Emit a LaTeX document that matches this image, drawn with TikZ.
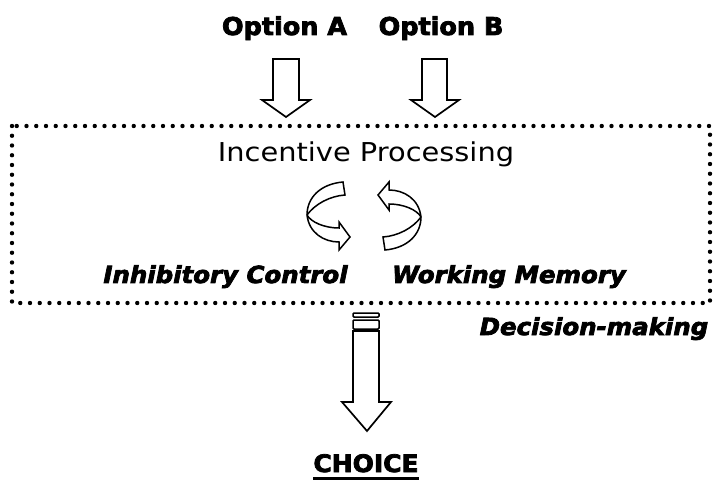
\documentclass[tikz,border=0pt]{standalone}
\usepackage{fontspec}
\newfontfamily\procfont{DejaVu Sans}[FakeStretch=1.11]
\newfontfamily\heavyfont{DejaVu Sans}[FakeStretch=1.04,BoldFeatures={FakeBold=3.2},BoldItalicFeatures={FakeBold=3.2}]
\begin{document}
\begin{tikzpicture}[x=1pt,y=-1pt,
  blockarrow/.style={draw=black,fill=white,line width=1.7pt,line join=miter},
  dotbox/.style={draw=black,line width=4.4pt,line cap=round,dash pattern=on 0pt off 9.75pt},
  opt/.style={inner sep=0pt,anchor=base,font=\heavyfont\bfseries\fontsize{24.5}{29}\selectfont},
  lab/.style={inner sep=0pt,anchor=base,font=\heavyfont\bfseries\itshape\fontsize{23.5}{28}\selectfont},
  proc/.style={inner sep=0pt,anchor=base,font=\procfont\fontsize{26}{31}\selectfont}]
\useasboundingbox (0,0) rectangle (726,489);

% texts
\node[opt] (optA) at (284.5,35) {Option A};
\node[opt] (optB) at (441,35) {Option B};
\node[proc] (proc) at (366,162) {Incentive Processing};
\node[lab] (inh) at (225.5,283) {Inhibitory Control};
\node[lab] (wm) at (509,283) {Working Memory};
\node[lab] (dec) at (594,335) {Decision-making};
\node[opt,font=\heavyfont\bfseries\fontsize{24}{28}\selectfont] (choice) at (366,472) {CHOICE};
\draw[line width=2.2pt] ([yshift=-6.5pt]choice.base west) -- ([yshift=-6.5pt]choice.base east);

% dotted box
\draw[dotbox] (12,126) rectangle (710,303);

% input arrows
\draw[blockarrow] (273,59) -- (299,59) -- (299,100) -- (310,100) -- (286,117) -- (262,100) -- (273,100) -- cycle;
\draw[blockarrow] (422,59) -- (447,59) -- (447,100) -- (459,100) -- (435,117) -- (411,100) -- (422,100) -- cycle;

% output arrow
\draw[blockarrow,line width=1.5pt,rounded corners=1pt] (353,313) rectangle (379,317);
\draw[blockarrow,line width=1.5pt,rounded corners=1pt] (353,320) rectangle (379,329);
\draw[blockarrow] (353,331) -- (379,331) -- (379,402) -- (391,402) -- (367,431) -- (342,402) -- (353,402) -- cycle;

% circular arrows
\def\curlarrow{%
  (343,182) .. controls (320,184) and (307,198) .. (307,215)
  .. controls (309,233) and (324,242) .. (339,242)
  -- (339,250) -- (350,237) -- (339,222) -- (339,228)
  .. controls (324,228) and (311,222) .. (307,215)
  .. controls (315,204) and (330,196) .. (345,195) -- cycle}
\draw[blockarrow,line width=1.5pt] \curlarrow;
\begin{scope}[rotate around={180:(364,216)}]
\draw[blockarrow,line width=1.5pt] \curlarrow;
\end{scope}
\end{tikzpicture}
\end{document}
